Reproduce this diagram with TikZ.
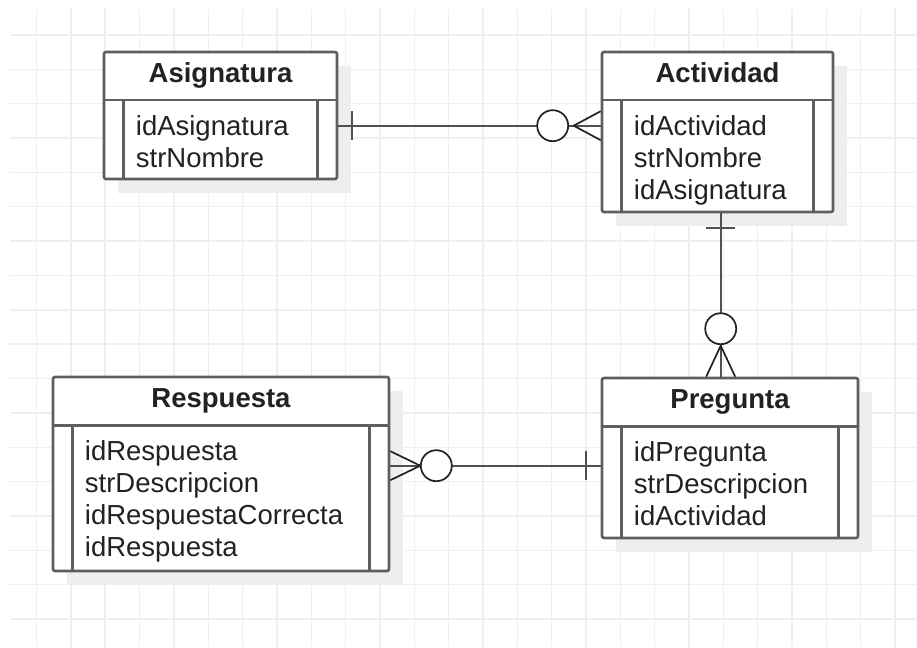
\documentclass[tikz,border=0pt]{standalone}
\usepackage{fontspec}
\setmainfont{Liberation Sans}
\usetikzlibrary{calc}
\definecolor{gridc}{HTML}{EFEFEF}
\definecolor{shadowc}{HTML}{EEEEEE}
\definecolor{edge}{HTML}{5E5E5E}
\definecolor{ink}{HTML}{222222}
\definecolor{wire}{HTML}{505050}

% entity box: name, x1, y1, x2, y2, title, attribute list
\newcommand\erentity[7]{%
  \fill[shade] (#2+14,#3+14) rectangle (#4+14,#5+14);
  \node[entbox, minimum width={#4-#2}, minimum height={#5-#3}] (#1)
    at ({(#2+#4)/2},{(#3+#5)/2}) {};
  \draw[entrule] ($(#1.north west)+(0,49.5)$) -- ($(#1.north east)+(0,49.5)$);
  \draw[entrule] ($(#1.north west)+(21,49.5)$) -- ($(#1.south west)+(21,0)$);
  \draw[entrule] ($(#1.north east)+(-21,49.5)$) -- ($(#1.south east)+(-21,0)$);
  \node[title] (#1-t) at ($(#1.north)+(0,31.5)$) {#6};
  \foreach \a [count=\i from 0] in {#7}
    \node[attr] (#1-a\i) at ($(#1.north west)+(33,{85+31.8*\i})$) {\a};
}

\begin{document}
\begin{tikzpicture}[x=1pt,y=-1pt,
  entbox/.style={draw=edge, line width=2.6pt, fill=white, rounded corners=2pt,
    inner sep=0pt, rectangle},
  entrule/.style={draw=edge, line width=2.6pt},
  shade/.style={fill=shadowc, draw=none},
  title/.style={font=\fontsize{27.5}{32}\selectfont\bfseries, text=ink,
    inner sep=0pt, anchor=base},
  attr/.style={font=\fontsize{27.5}{32}\selectfont, text=ink, inner sep=0pt,
    anchor=base west},
  wireline/.style={draw=wire, line width=2.2pt},
  crow/.style={draw=ink, line width=1.7pt},
  opt/.style={circle, draw=ink, line width=1.7pt, fill=white,
    minimum size=31pt, inner sep=0pt},
  gridline/.style={draw=gridc, line width=1.4pt}]

% page and background grid
\fill[white] (0,0) rectangle (917,647);
\useasboundingbox (0,0) rectangle (917,647);
\foreach \k in {0,...,17}
  \draw[gridline] (10,{35+34.35*\k}) -- (917,{35+34.35*\k});
\foreach \k in {0,...,25}
  \draw[gridline] ({36.5+34.34*\k},9) -- ({36.5+34.34*\k},647);

% entities
\erentity{asig}{104}{52}{337}{179}{Asignatura}{idAsignatura,strNombre}
\erentity{activ}{602}{52}{833}{212}{Actividad}{idActividad,strNombre,idAsignatura}
\erentity{preg}{602}{378}{858}{538}{Pregunta}{idPregunta,strDescripcion,idActividad}
\erentity{resp}{53}{377}{389}{571}{Respuesta}{idRespuesta,strDescripcion,idRespuestaCorrecta,idRespuesta}

% Asignatura (one) -- Actividad (zero or many)
\coordinate (c1s) at ($(asig.north east)+(0,75)$);
\coordinate (c1e) at ($(activ.north west)+(0,75)$);
\coordinate (c1f) at ($(c1e)+(-27,0)$);
\draw[wireline] (c1s) -- (c1e);
\draw[wireline] ($(c1s)+(14,-14.5)$) -- ($(c1s)+(14,14.5)$);
\draw[crow] ($(c1e)+(0,-14.5)$) -- (c1f) -- ($(c1e)+(0,14.5)$);
\node[opt] (c1o) at ($(c1e)+(-48,0)$) {};

% Actividad (one) -- Pregunta (zero or many)
\coordinate (c2s) at ($(activ.south west)+(120,0)$);
\coordinate (c2e) at ($(preg.north west)+(120,0)$);
\coordinate (c2f) at ($(c2e)+(0,-31)$);
\draw[wireline] (c2s) -- (c2e);
\draw[wireline] ($(c2s)+(-14.5,15)$) -- ($(c2s)+(14.5,15)$);
\draw[crow] ($(c2e)+(-14.5,0)$) -- (c2f) -- ($(c2e)+(14.5,0)$);
\node[opt] (c2o) at ($(c2e)+(0,-48)$) {};

% Respuesta (zero or many) -- Pregunta (one)
\coordinate (c3s) at ($(resp.north east)+(0,90)$);
\coordinate (c3e) at ($(preg.north west)+(0,89)$);
\coordinate (c3f) at ($(c3s)+(30,0)$);
\draw[wireline] (c3s) -- (c3e);
\draw[wireline] ($(c3e)+(-15,-14.5)$) -- ($(c3e)+(-15,14.5)$);
\draw[crow] ($(c3s)+(0,-14.5)$) -- (c3f) -- ($(c3s)+(0,14.5)$);
\node[opt] (c3o) at ($(c3s)+(46,0)$) {};
\end{tikzpicture}
\end{document}
